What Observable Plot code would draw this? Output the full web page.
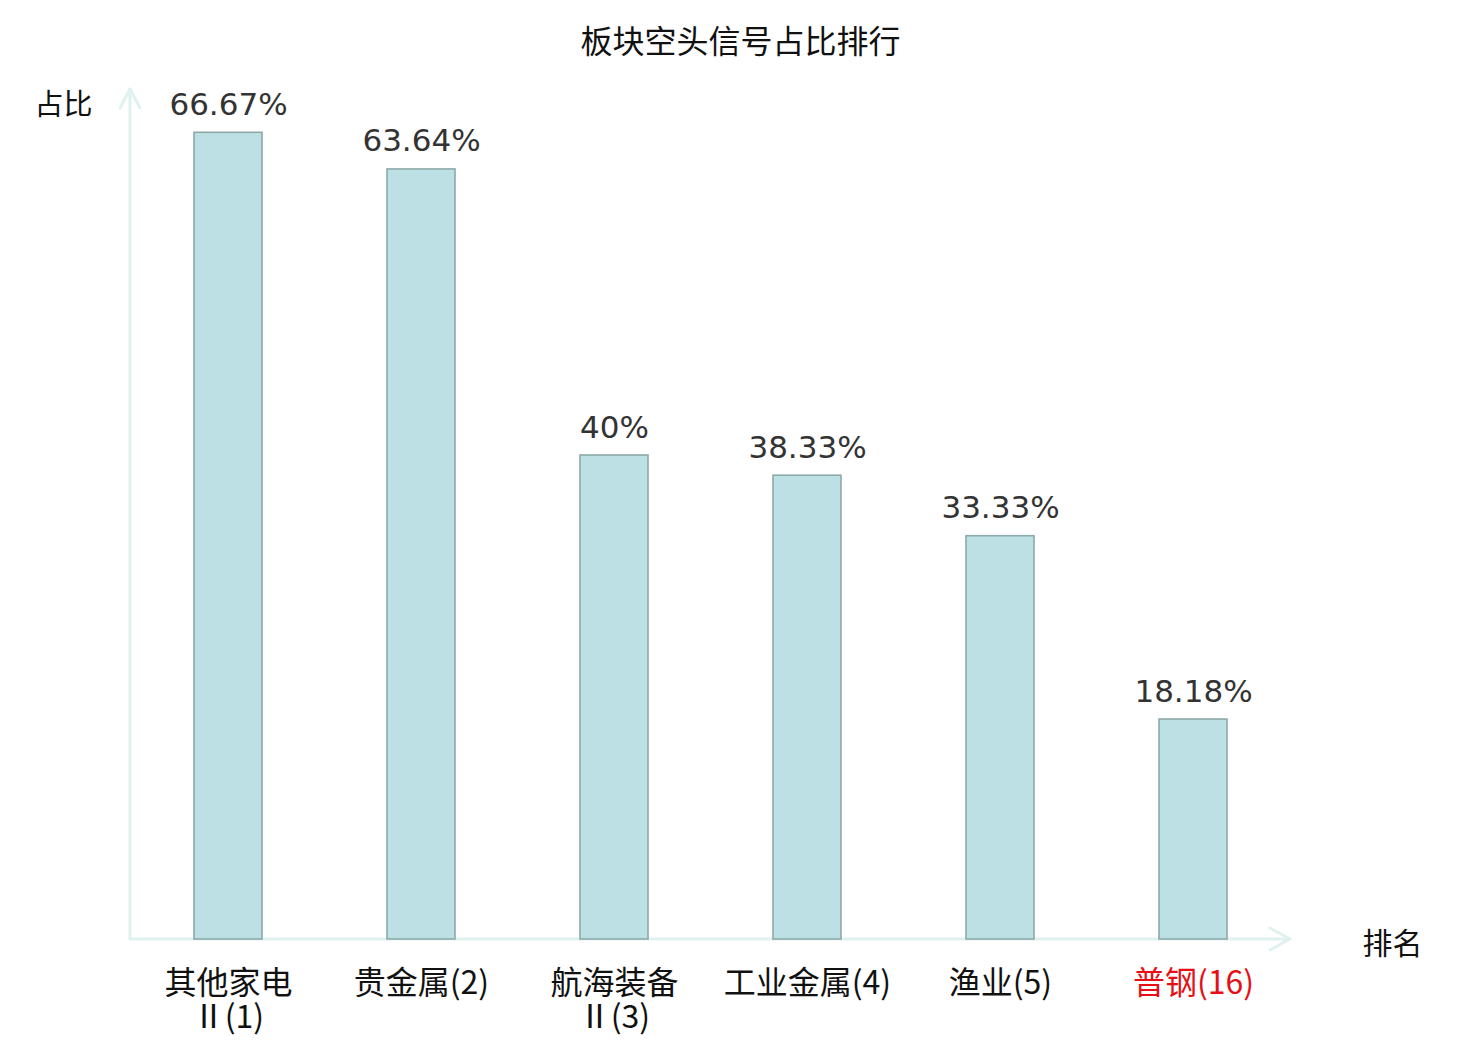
<!DOCTYPE html>
<html>
<head>
<meta charset="utf-8">
<script src="https://cdn.jsdelivr.net/npm/d3@7"></script>
<script src="https://cdn.jsdelivr.net/npm/@observablehq/plot@0.6"></script>
<style>
  body { margin: 0; background: #fff; }
</style>
</head>
<body>
<div id="chart"></div>
<script>
const title = "板块空头信号占比排行";
const yLabel = "占比";
const xLabel = "排名";
const categories = ["其他家电\nⅡ(1)", "贵金属(2)", "航海装备\nⅡ(3)", "工业金属(4)", "渔业(5)", "普钢(16)"];
const values = [66.67, 63.64, 40, 38.33, 33.33, 18.18];
const highlight = "普钢(16)";

const data = categories.map((c, i) => ({category: c, value: values[i]}));
const fmt = v => `${+v.toFixed(2)}%`;
const axisColor = "#dff2ef";

function axesMark(index, scales, values, dims) {
  const g = d3.create("svg:g").attr("fill", "none").attr("stroke", axisColor)
    .attr("stroke-width", 3).attr("stroke-linecap", "round").attr("stroke-linejoin", "round");
  const x0 = dims.marginLeft, x1 = dims.width - dims.marginRight;
  const yb = scales.y(0);
  const yt = dims.marginTop - 3;
  // y axis
  g.append("line").attr("x1", x0).attr("x2", x0).attr("y1", yb).attr("y2", yt);
  g.append("path").attr("d", `M${x0 - 10},${yt + 19}L${x0},${yt}L${x0 + 10},${yt + 19}`);
  // x axis
  g.append("line").attr("x1", x0).attr("x2", x1).attr("y1", yb).attr("y2", yb);
  g.append("path").attr("d", `M${x1 - 20},${yb - 11}L${x1},${yb}L${x1 - 20},${yb + 11}`);
  return g.node();
}

const plot = Plot.plot({
  width: 1480,
  height: 1040,
  marginLeft: 130,
  marginRight: 190,
  marginTop: 92,
  marginBottom: 101,
  x: {domain: categories, paddingInner: 0.648, paddingOuter: 0.324, axis: null},
  y: {domain: [0, 70], axis: null},
  style: {fontFamily: "'DejaVu Sans', 'Noto Sans CJK SC', sans-serif", background: "#fff"},
  marks: [
    axesMark,
    Plot.barY(data, {x: "category", y: "value", fill: "#bce0e3", stroke: "#8ea9a9", strokeWidth: 1.6}),
    Plot.text(data, {x: "category", y: "value", text: d => fmt(d.value), lineAnchor: "bottom", dy: -18,
      fontSize: 31, fill: "#333333", fontFamily: "'DejaVu Sans', sans-serif"}),
    Plot.text(data, {x: "category", y: 0, text: "category", lineAnchor: "top", dy: 31, lineHeight: 1.05,
      fontSize: 32, fill: d => d.category === highlight ? "#e60f16" : "#111111",
      fontFamily: "'Noto Sans CJK SC', sans-serif"}),
    Plot.text([title], {frameAnchor: "top", dx: 30, dy: -62, fontSize: 32, fill: "#111",
      fontFamily: "'Noto Sans CJK SC', sans-serif"}),
    Plot.text([yLabel], {frameAnchor: "top-left", dx: -96, dy: 2, fontSize: 29, fill: "#111",
      fontFamily: "'Noto Sans CJK SC', sans-serif"}),
    Plot.text([xLabel], {frameAnchor: "bottom-right", dx: 132, dy: 14, fontSize: 30, fill: "#111",
      fontFamily: "'Noto Sans CJK SC', sans-serif"})
  ]
});
document.getElementById("chart").appendChild(plot);
</script>
</body>
</html>
